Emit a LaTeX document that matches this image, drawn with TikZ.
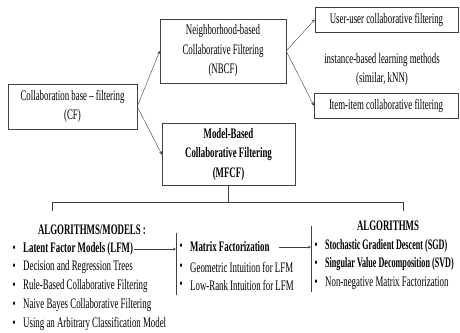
\documentclass[tikz,border=0pt]{standalone}
\usepackage{fontspec}
\setmainfont{Liberation Serif}[FakeStretch=0.61]
\usetikzlibrary{arrows,positioning}

\begin{document}
\begin{tikzpicture}[x=1pt, y=-1pt, font=\fontsize{14.5}{19.5}\selectfont]
            \tikzstyle{box} = [rectangle, draw=black!75, align=center, inner sep=2pt]
            \tikzstyle{arrow} = [->, >=stealth, draw=black!75]
            \tikzstyle{entry} = [anchor=west, inner sep=1pt, label={[inner sep=0pt, label distance=6pt]left:\textbullet}]
            \tikzstyle{head} = [font=\fontsize{14.5}{16}\selectfont\bfseries, inner sep=1pt]

            \useasboundingbox (0,0) rectangle (460,332);

            % boxes
            \node [box, minimum width=129pt, minimum height=45pt] (cf) at (72.5,106.5) {Collaboration base -- filtering\\(CF)};
            \node [box, minimum width=126pt, minimum height=64pt] (nbcf) at (223,51) {Neighborhood-based\\Collaborative Filtering\\(NBCF)};
            \node [box, minimum width=133pt, minimum height=62pt, font=\fontsize{14.5}{19.5}\selectfont\bfseries] (mfcf) at (228.5,154.5) {Model-Based\\Collaborative Filtering\\(MFCF)};
            \node [box, minimum width=143pt, minimum height=25pt] (useruser) at (386.5,19.5) {User-user collaborative filtering};
            \node [box, minimum width=144pt, minimum height=25pt] (itemitem) at (386,105.5) {Item-item collaborative filtering};
            \node [align=center, inner sep=1pt] (instance) at (382,69.5) {instance-based learning methods\\(similar, kNN)};

            \draw [arrow] (cf.east) -- (nbcf.west);
            \draw [arrow] (cf.east) -- (mfcf.west);
            \draw [arrow] (nbcf.east) -- (useruser.west);
            \draw [arrow] (nbcf.east) -- (itemitem.west);

            % bracket under MFCF
            \coordinate (brleft) at (52,211);
            \coordinate (brright) at (403,211);
            \draw [black!75] (brleft) -- ++(0,-9) -- ++(351,0) -- (brright);
            \draw [black!75] (mfcf.south) -- (mfcf.south |- 0,202);

            % algorithms / models
            \node [head] (models) at (92,230) {ALGORITHMS/MODELS :};
            \node [entry, font=\fontsize{14.5}{16}\selectfont\bfseries] (lfm) at (22,249) {Latent Factor Models (LFM)};
            \node [entry] (trees) at (22,267) {Decision and Regression Trees};
            \node [entry] (rules) at (22,286) {Rule-Based Collaborative Filtering};
            \node [entry] (bayes) at (22,305) {Naive Bayes Collaborative Filtering};
            \node [entry] (classif) at (22,324) {Using an Arbitrary Classification Model};

            % matrix factorization
            \coordinate (midtop) at (176,233);
            \coordinate (midbot) at (176,295);
            \draw [black!75] (midtop) -- (midbot);
            \node [entry, font=\fontsize{14.5}{16}\selectfont\bfseries] (mf) at (189,247) {Matrix Factorization};
            \node [entry] (geom) at (189,267) {Geometric Intuition for LFM};
            \node [entry] (lowrank) at (189,285) {Low-Rank Intuition for LFM};
            \draw [arrow] (lfm.east) -- (lfm.east -| midtop);

            % algorithms
            \coordinate (righttop) at (311,226);
            \coordinate (rightbot) at (311,292);
            \draw [black!75] (righttop) -- (rightbot);
            \node [head] (algos) at (388,226) {ALGORITHMS};
            \node [entry, font=\fontsize{14.5}{16}\selectfont\bfseries\addfontfeatures{FakeStretch=0.56}] (sgd) at (324,246) {Stochastic Gradient Descent (SGD)};
            \node [entry, font=\fontsize{14.5}{16}\selectfont\bfseries\addfontfeatures{FakeStretch=0.56}] (svd) at (324,264) {Singular Value Decomposition (SVD)};
            \node [entry] (nmf) at (324,283) {Non-negative Matrix Factorization};
            \draw [arrow] ([xshift=8pt]mf.east) -- (mf.east -| righttop);
\end{tikzpicture}
\end{document}
